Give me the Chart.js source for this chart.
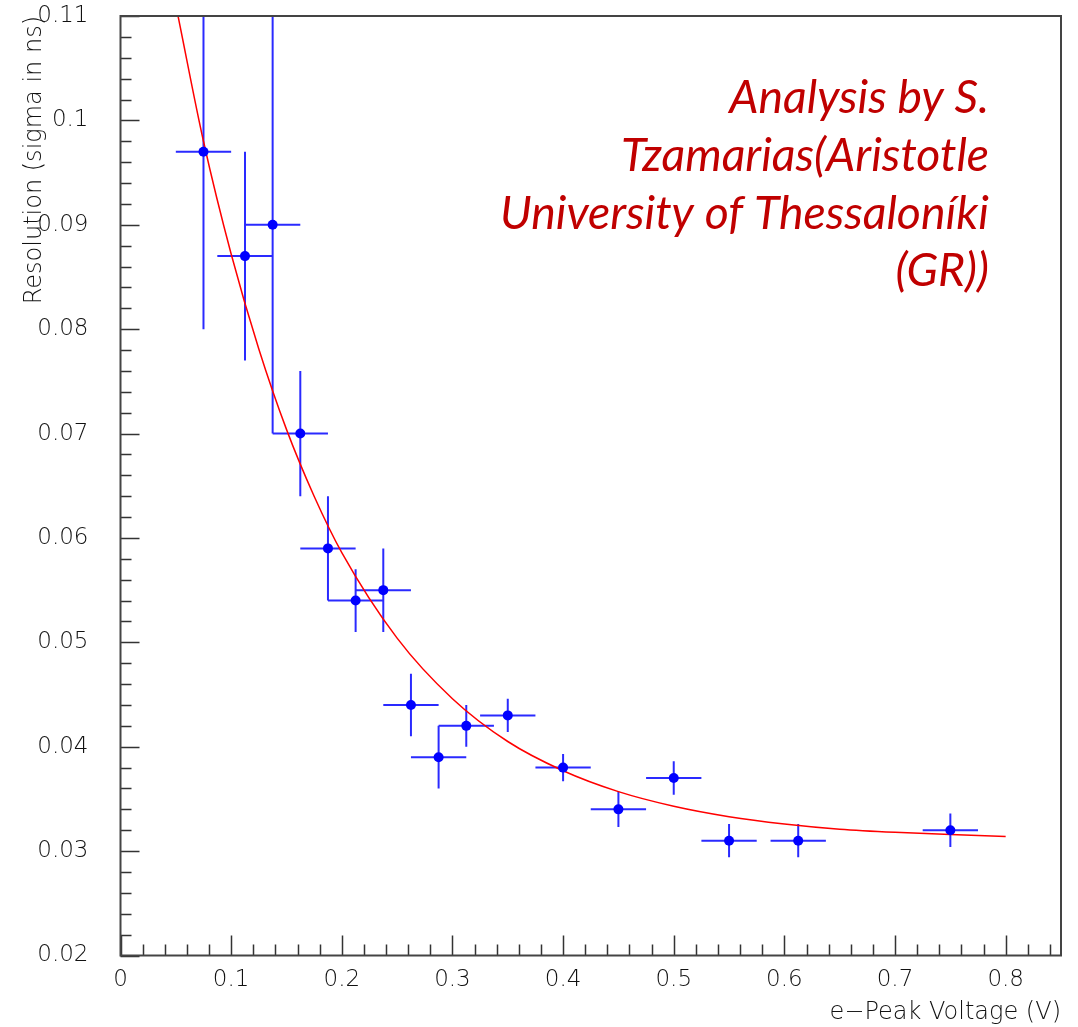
<!DOCTYPE html>
<html><head><meta charset="utf-8">
<script src="https://cdn.jsdelivr.net/npm/chart.js@4.4.1/dist/chart.umd.min.js"></script>
<style>html,body{margin:0;padding:0;background:#fff;}</style>
</head><body>
<canvas id="c" width="1078" height="1027"></canvas>
<script>
// ---- data ----
const voltage       = [0.075, 0.1125, 0.1375, 0.1625, 0.1875, 0.2125, 0.2375, 0.2625, 0.2875, 0.3125, 0.35, 0.40, 0.45, 0.50, 0.55, 0.6125, 0.75];
const resolution    = [0.097, 0.087, 0.090, 0.070, 0.059, 0.054, 0.055, 0.044, 0.039, 0.042, 0.043, 0.038, 0.034, 0.037, 0.031, 0.031, 0.032];
const voltageErr    = [0.025, 0.025, 0.025, 0.025, 0.025, 0.025, 0.025, 0.025, 0.025, 0.025, 0.025, 0.025, 0.025, 0.025, 0.025, 0.025, 0.025];
const resolutionErr = [0.017, 0.010, 0.020, 0.006, 0.005, 0.003, 0.004, 0.003, 0.003, 0.002, 0.0016, 0.0013, 0.0017, 0.0016, 0.0016, 0.0016, 0.0016];
const fitVoltage    = [0.052, 0.075, 0.10, 0.125, 0.15, 0.175, 0.20, 0.25, 0.30, 0.35, 0.40, 0.45, 0.50, 0.55, 0.60, 0.65, 0.70, 0.75, 0.80];
const fitResolution = [0.110, 0.098, 0.0872, 0.0781, 0.0704, 0.0640, 0.0586, 0.0504, 0.0446, 0.0405, 0.0377, 0.0357, 0.0343, 0.0333, 0.0326, 0.0321, 0.0318, 0.0316, 0.0314];
const xTickValues   = [0, 0.1, 0.2, 0.3, 0.4, 0.5, 0.6, 0.7, 0.8];
const yTickValues   = [0.02, 0.03, 0.04, 0.05, 0.06, 0.07, 0.08, 0.09, 0.10, 0.11];
const xMinorStep = 0.02, yMinorStep = 0.002;
const xTitle = 'e\u2212Peak Voltage (V)';
const yTitle = 'Resolution (sigma in ns)';
const noteLines = ['Analysis by S.', 'Tzamarias(Aristotle', 'University of Thessaloníki', '(GR))'];

const axisFont = {family: 'DejaVu Sans', size: 23, weight: 200};
const titleFont = {family: 'DejaVu Sans', size: 24, weight: 200};
const textColor = '#111';

const errorBars = {
  id: 'errorBars',
  beforeDatasetsDraw(chart) {
    const {ctx, chartArea: a, scales: {x, y}} = chart;
    ctx.save();
    ctx.beginPath(); ctx.rect(a.left, a.top, a.right - a.left, a.bottom - a.top); ctx.clip();
    ctx.strokeStyle = '#2a2aff'; ctx.lineWidth = 2;
    voltage.forEach((v, i) => {
      const px = x.getPixelForValue(v), py = y.getPixelForValue(resolution[i]);
      const x0 = x.getPixelForValue(v - voltageErr[i]), x1 = x.getPixelForValue(v + voltageErr[i]);
      const y0 = y.getPixelForValue(resolution[i] - resolutionErr[i]), y1 = y.getPixelForValue(resolution[i] + resolutionErr[i]);
      ctx.beginPath();
      ctx.moveTo(x0, py); ctx.lineTo(x1, py);
      ctx.moveTo(px, y0); ctx.lineTo(px, y1);
      ctx.stroke();
    });
    ctx.restore();
  }
};

const frameAndTicks = {
  id: 'frameAndTicks',
  afterDatasetsDraw(chart) {
    const {ctx, chartArea: a, scales: {x, y}} = chart;
    ctx.save();
    ctx.strokeStyle = '#333'; ctx.lineWidth = 1.5;
    ctx.beginPath();
    const n = Math.round((x.max - x.min) / xMinorStep);
    for (let k = 0; k <= n; k++) {
      const v = x.min + k * xMinorStep;
      if (v > x.max + 1e-9) break;
      const major = xTickValues.some(t => Math.abs(t - v) < 1e-9);
      const px = Math.round(x.getPixelForValue(v)) + 0.5;
      ctx.moveTo(px, a.bottom); ctx.lineTo(px, a.bottom - (major ? 20 : 11));
    }
    const m = Math.round((y.max - y.min) / yMinorStep);
    for (let k = 0; k <= m; k++) {
      const v = y.min + k * yMinorStep;
      const major = yTickValues.some(t => Math.abs(t - v) < 1e-9);
      const py = Math.round(y.getPixelForValue(v)) + 0.5;
      ctx.moveTo(a.left, py); ctx.lineTo(a.left + (major ? 19 : 11), py);
    }
    ctx.stroke();
    ctx.strokeStyle = '#444'; ctx.lineWidth = 2;
    ctx.strokeRect(a.left, a.top, a.right - a.left, a.bottom - a.top);
    ctx.restore();
  }
};

const note = {
  id: 'note',
  afterDraw(chart) {
    const {ctx, chartArea: a} = chart;
    ctx.save();
    ctx.fillStyle = '#c00000';
    ctx.textAlign = 'right';
    ctx.textBaseline = 'alphabetic';
    ctx.font = 'italic 100px Lato';
    const w = ctx.measureText(noteLines[2]).width;
    const size = 100 * 489 / w;
    ctx.font = 'italic ' + size.toFixed(2) + 'px Lato';
    noteLines.forEach((t, i) => ctx.fillText(t, a.right - 72, a.top + 97 + i * 57.8));
    ctx.restore();
  }
};

new Chart(document.getElementById('c'), {
  data: {
    datasets: [
      {
        type: 'scatter', label: 'data',
        data: voltage.map((v, i) => ({x: v, y: resolution[i]})),
        pointRadius: 5, pointBackgroundColor: '#0000ff', pointBorderColor: '#0000ff', pointBorderWidth: 0,
        order: 0
      },
      {
        type: 'line', label: 'fit',
        data: fitVoltage.map((v, i) => ({x: v, y: fitResolution[i]})),
        borderColor: '#ff0000', borderWidth: 1.5, pointRadius: 0, fill: false,
        tension: 0.4, cubicInterpolationMode: 'monotone',
        order: 1
      }
    ]
  },
  options: {
    responsive: false, animation: false, devicePixelRatio: 1,
    layout: {padding: {left: 20, top: 16, right: 17, bottom: 0}},
    plugins: {legend: {display: false}, tooltip: {enabled: false}},
    scales: {
      x: {
        type: 'linear', min: 0, max: 0.85,
        grid: {display: false}, border: {display: false},
        afterBuildTicks: s => { s.ticks = xTickValues.map(v => ({value: v})); },
        afterFit: s => { s.height = 71.5; s.paddingLeft = 0; s.paddingRight = 0; },
        ticks: {autoSkip: false, maxRotation: 0, minRotation: 0, padding: 3, color: textColor, font: axisFont,
                callback: v => String(+Number(v).toFixed(2))},
        title: {display: true, text: xTitle, align: 'end', color: textColor, font: titleFont, padding: 0}
      },
      y: {
        type: 'linear', min: 0.02, max: 0.11,
        grid: {display: false}, border: {display: false},
        afterBuildTicks: s => { s.ticks = yTickValues.map(v => ({value: v})); },
        afterFit: s => { s.width = 100.5; s.paddingTop = 0; s.paddingBottom = 0; },
        ticks: {autoSkip: false, padding: 24, color: textColor, font: axisFont,
                callback: v => String(+Number(v).toFixed(3))},
        title: {display: true, text: yTitle, align: 'end', color: textColor, font: titleFont, padding: 0}
      }
    }
  },
  plugins: [errorBars, frameAndTicks, note]
});
</script>
</body></html>
